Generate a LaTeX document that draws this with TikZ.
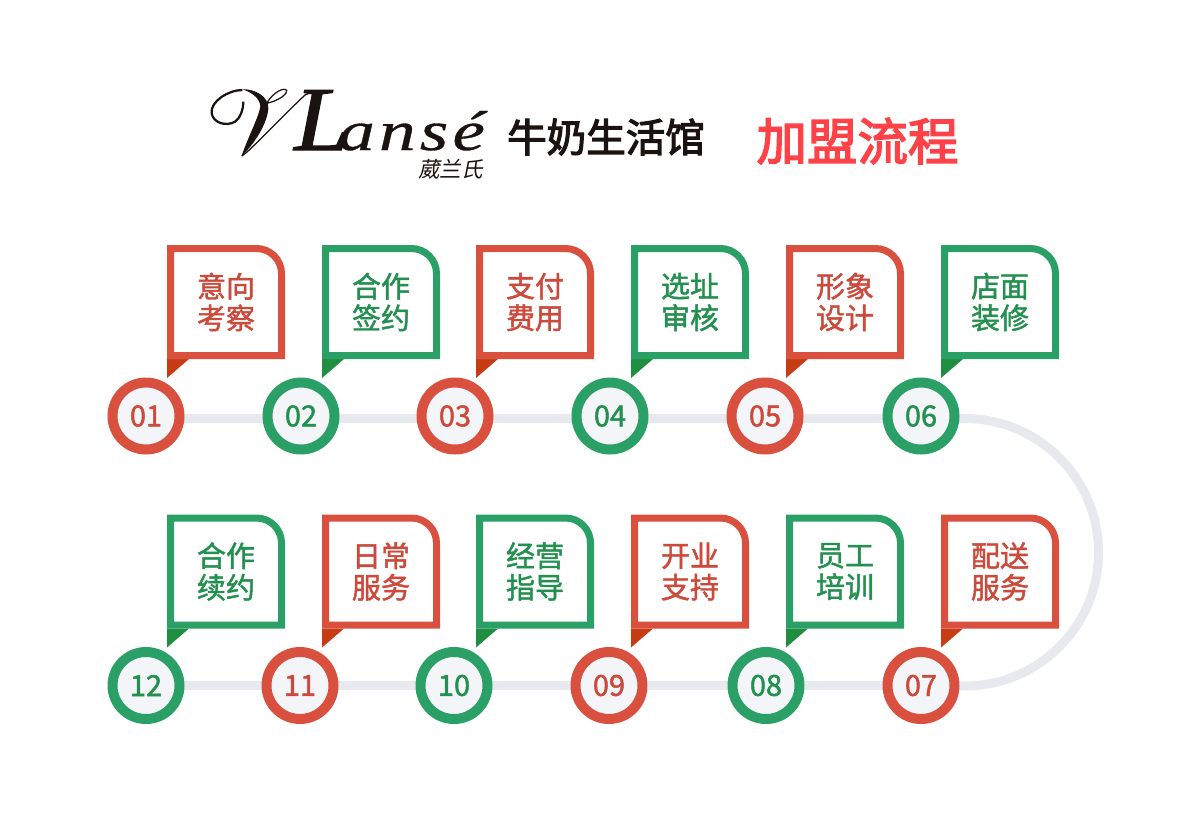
\documentclass[tikz,border=0pt]{standalone}
\usepackage{fontspec}
\usepackage{xcolor}
\usetikzlibrary{backgrounds}
\setmainfont[FakeBold=1.6]{Noto Sans CJK SC}
\newfontfamily\logofont[LetterSpace=7.5, FakeStretch=1.3, FakeBold=0.6]{Liberation Serif}
\newfontfamily\logoLfont[FakeStretch=1.1, FakeBold=1.5]{Liberation Serif}
\newfontfamily\logocjk[FakeSlant=0.2]{Noto Sans CJK SC}
\newfontfamily\brandfont[FakeBold=3]{Noto Sans CJK SC}
\definecolor{stepred}{HTML}{D9503F}
\definecolor{stepreddark}{HTML}{C83C14}
\definecolor{stepredtext}{HTML}{CC4A3B}
\definecolor{stepgreen}{HTML}{2BA066}
\definecolor{stepgreendark}{HTML}{1F8E40}
\definecolor{stepgreentext}{HTML}{23904F}
\definecolor{trackgrey}{HTML}{E8E9EF}
\definecolor{circlefill}{HTML}{F4F5F8}
\definecolor{logoblack}{HTML}{1A1311}
\definecolor{titlered}{HTML}{FF4248}
\tikzset{
    stepcircle/.style={circle, line width=0.2cm, minimum size=1.34cm, inner sep=0pt, fill=circlefill, font=\fontsize{16.5}{18}\selectfont},
    stepbox/.style={line width=0.14cm, line join=miter, fill=white},
    steplabel/.style={align=center, inner sep=0pt, font=\fontsize{16.5}{18}\selectfont},
    trackline/.style={line width=0.18cm, draw=trackgrey},
}
\begin{document}
\begin{tikzpicture}[x=0.02cm, y=-0.02cm]
        \newcommand{\flowstep}[7]{
            \node[stepcircle, draw=step#2, text=step#2text] (circ#1) at (#3,#5) {\raisebox{-0.6pt}{#1}};
            \fill[step#2dark] (#4,#5-57) -- (#4,#5-38) -- (#4+22,#5-57) -- cycle;
            \draw[stepbox, draw=step#2] (#4+3.5,#5-60.5) -- (#4+3.5,#5-167.5) [rounded corners=0.5cm] -- (#4+114.5,#5-167.5) [sharp corners] -- (#4+114.5,#5-60.5) -- cycle;
            \node[steplabel, text=step#2text] (label#1) at (#4+59,#5-114) {#6\\#7};
        }
        \useasboundingbox (0,0) rectangle (1200,836);
        \node[anchor=base west, inner sep=0pt, text=logoblack] (logoL) at (294,150) {\logoLfont\itshape\fontsize{52}{52}\selectfont L};
        \node[anchor=base west, inner sep=0pt, text=logoblack] (logoname) at (338,150) {\logofont\itshape\fontsize{32}{32}\selectfont ansé};
        \node[inner sep=0pt, text=logoblack] (logocn) at (450.5,169) {\logocjk\fontsize{12.3}{13}\selectfont 葳兰氏};
        \node[inner sep=0pt, text=logoblack] (brand) at (606,137) {\brandfont\fontsize{22.5}{24}\selectfont 牛奶生活馆};
        \node[inner sep=0pt, text=titlered] (title) at (857.5,141) {\brandfont\fontsize{28.7}{30}\selectfont 加盟流程};
        \begin{scope}[shift={(205,80)}, scale=0.3333, logoblack]
            \fill (112,28) .. controls (150,26) and (192,50) .. (190,85) .. controls (187,130) and (150,190) .. (110,228) .. controls (125,180) and (160,115) .. (166,80) .. controls (165,52) and (135,35) .. (112,28) -- cycle;
            \draw[line width=0.045cm] (112,30) .. controls (70,30) and (15,65) .. (20,100) .. controls (25,130) and (65,140) .. (90,125) .. controls (105,115) and (115,90) .. (115,65);
            \draw[line width=0.025cm] (172,72) .. controls (200,70) and (245,50) .. (245,32) .. controls (240,20) and (205,35) .. (185,70);
            \draw[line width=0.025cm] (110,228) .. controls (130,218) and (200,140) .. (300,45) -- (325,35);
        \end{scope}
        \flowstep{01}{red}{146}{167}{416}{意向}{考察}
        \flowstep{02}{green}{301}{322}{416}{合作}{签约}
        \flowstep{03}{red}{455}{476}{416}{支付}{费用}
        \flowstep{04}{green}{610}{631}{416}{选址}{审核}
        \flowstep{05}{red}{765}{786}{416}{形象}{设计}
        \flowstep{06}{green}{921}{941}{416}{店面}{装修}
        \flowstep{07}{red}{921}{941}{685.5}{配送}{服务}
        \flowstep{08}{green}{766}{786}{685.5}{员工}{培训}
        \flowstep{09}{red}{609}{631}{685.5}{开业}{支持}
        \flowstep{10}{green}{454}{476}{685.5}{经营}{指导}
        \flowstep{11}{red}{300}{322}{685.5}{日常}{服务}
        \flowstep{12}{green}{146}{167}{685.5}{合作}{续约}
        \coordinate (turntop) at (964.75,418.5);
        \coordinate (turnbottom) at (964.75,686);
        \begin{pgfonlayer}{background}
            \draw[trackline] ([yshift=-0.05cm]circ01.center) -- ([yshift=-0.05cm]circ02.center);
            \draw[trackline] ([yshift=-0.05cm]circ02.center) -- ([yshift=-0.05cm]circ03.center);
            \draw[trackline] ([yshift=-0.05cm]circ03.center) -- ([yshift=-0.05cm]circ04.center);
            \draw[trackline] ([yshift=-0.05cm]circ04.center) -- ([yshift=-0.05cm]circ05.center);
            \draw[trackline] ([yshift=-0.05cm]circ05.center) -- ([yshift=-0.05cm]circ06.center);
            \draw[trackline] ([yshift=-0.05cm]circ06.center) -- (turntop) arc[start angle=-90, end angle=90, radius=133.75] -- (circ07);
            \draw[trackline] (circ07) -- (circ08);
            \draw[trackline] (circ08) -- (circ09);
            \draw[trackline] (circ09) -- (circ10);
            \draw[trackline] (circ10) -- (circ11);
            \draw[trackline] (circ11) -- (circ12);
        \end{pgfonlayer}
    \end{tikzpicture}
\end{document}
